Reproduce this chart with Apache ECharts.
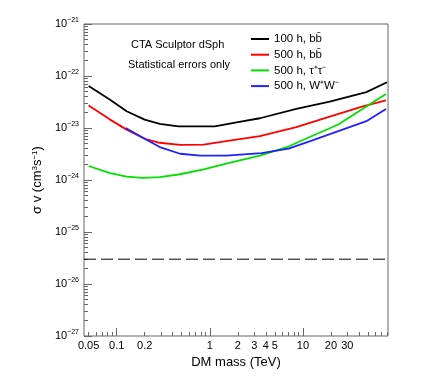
<!DOCTYPE html>
<html>
<head>
<meta charset="utf-8">
<script src="https://cdn.jsdelivr.net/npm/echarts@6/dist/echarts.min.js"></script>
<style>
  html, body { margin: 0; padding: 0; background: #fff; }
  #chart { width: 432px; height: 377px; }
</style>
</head>
<body>
<div id="chart"></div>
<script>
// DM mass (TeV) and sigma v (cm^3 s^-1)
const massBlack = [0.05, 0.085, 0.128, 0.2, 0.29, 0.46, 1.13, 1.94, 3.45, 8.5, 19.4, 48, 80]
const sigmaBlack = [6.4e-23, 3.5e-23, 2.1e-23, 1.45e-23, 1.2e-23, 1.07e-23, 1.07e-23, 1.28e-23, 1.54e-23, 2.33e-23, 3.2e-23, 4.9e-23, 7.6e-23]

const massRed = [0.05, 0.085, 0.128, 0.2, 0.29, 0.48, 0.86, 1.5, 3.45, 8.5, 19.4, 44, 78]
const sigmaRed = [2.72e-23, 1.45e-23, 9.3e-24, 6.2e-24, 5.2e-24, 4.75e-24, 4.8e-24, 5.6e-24, 7.0e-24, 1.04e-23, 1.66e-23, 2.6e-23, 3.4e-23]

const massGreen = [0.05, 0.085, 0.128, 0.19, 0.29, 0.48, 0.86, 1.5, 3.45, 7.0, 12, 24, 48, 78]
const sigmaGreen = [1.86e-24, 1.35e-24, 1.16e-24, 1.1e-24, 1.14e-24, 1.29e-24, 1.6e-24, 2.07e-24, 2.95e-24, 4.4e-24, 6.8e-24, 1.17e-23, 2.6e-23, 4.5e-23]

const massBlue = [0.125, 0.2, 0.29, 0.48, 0.79, 1.5, 3.6, 7.0, 12, 24, 48, 78]
const sigmaBlue = [1.0e-23, 6.2e-24, 4.3e-24, 3.2e-24, 2.95e-24, 2.95e-24, 3.3e-24, 4.0e-24, 5.6e-24, 8.7e-24, 1.35e-23, 2.33e-23]

const thermalRelic = 3e-26

const xLabels = [0.05, 0.1, 0.2, 1, 2, 3, 4, 5, 10, 20, 30]
const yDecades = [-27, -26, -25, -24, -23, -22, -21]
const massRange = [0.0446, 82]

const log = (v) => Math.log10(v)
const toPoints = (xs, ys) => xs.map((x, i) => [log(x), log(ys[i])])

// minor tick positions on the log axes
const xMinor = []
for (let d = -2; d <= 1; d++) {
	for (let k = 2; k <= 9; k++) {
		const v = log(k) + d
		if (v > log(massRange[0]) && v < log(massRange[1])) xMinor.push(v)
	}
}
const yMinor = []
for (let d = -27; d < -21; d++) {
	for (let k = 2; k <= 9; k++) yMinor.push(log(k) + d)
}

const font = "Liberation Sans"
const frame = "#666"

const chart = echarts.init(document.getElementById("chart"))

const lineSeries = (name, color, xs, ys) => ({
	name: name,
	type: "line",
	data: toPoints(xs, ys),
	showSymbol: false,
	symbol: "none",
	lineStyle: { color: color, width: 1.8 },
	itemStyle: { color: color },
	animation: false,
})

let options = {
	animation: false,
	textStyle: { fontFamily: font },
	grid: {
		left: 84,
		right: 44,
		top: 24,
		bottom: 41,
		show: true,
		borderColor: frame,
		borderWidth: 1,
	},
	legend: {
		orient: "vertical",
		left: 246,
		top: 27,
		itemWidth: 18,
		itemHeight: 2,
		itemGap: 1.7,
		icon: "rect",
		textStyle: { fontFamily: font, fontSize: 11.5, color: "#000", lineHeight: 14 },
		data: ["100 h, bb\u0304", "500 h, bb\u0304", "500 h, \u03c4\u207a\u03c4\u207b", "500 h, W\u207aW\u207b"],
	},
	graphic: [
		{
			type: "text",
			left: 131,
			top: 39,
			style: { text: "CTA Sculptor dSph", font: "11px " + font, fill: "#000" },
		},
		{
			type: "text",
			left: 128,
			top: 59,
			style: { text: "Statistical errors only", font: "11px " + font, fill: "#000" },
		},
	],
	xAxis: [
		{
			type: "value",
			min: log(massRange[0]),
			max: log(massRange[1]),
			name: "DM mass (TeV)",
			nameLocation: "middle",
			nameGap: 18,
			nameTextStyle: { fontFamily: font, fontSize: 13, color: "#000" },
			axisLine: { show: false, onZero: false },
			splitLine: { show: false },
			axisTick: {
				show: true,
				inside: true,
				length: 8,
				customValues: [-1, 0, 1],
				lineStyle: { color: frame },
			},
			axisLabel: {
				customValues: xLabels.map(log),
				margin: 4,
				fontSize: 11,
				color: "#000",
				fontFamily: font,
				formatter: (v) => String(Number(Math.pow(10, v).toPrecision(2))),
			},
		},
		{
			type: "value",
			min: log(massRange[0]),
			max: log(massRange[1]),
			position: "bottom",
			axisLine: { show: false, onZero: false },
			splitLine: { show: false },
			axisLabel: { show: false },
			axisTick: {
				show: true,
				inside: true,
				length: 4,
				customValues: xMinor,
				lineStyle: { color: frame },
			},
		},
	],
	yAxis: [
		{
			type: "value",
			min: -27,
			max: -21,
			interval: 1,
			name: "\u03c3 v (cm{s|3}s{s|\u22121})",
			nameLocation: "middle",
			nameGap: 38,
			nameRotate: 90,
			nameTextStyle: {
				fontFamily: font,
				fontSize: 13,
				color: "#000",
				rich: { s: { fontSize: 8, fontFamily: font, padding: [0, 0, 6, 0] } },
			},
			axisLine: { show: false, onZero: false },
			splitLine: { show: false },
			axisTick: {
				show: true,
				inside: true,
				length: 8,
				customValues: yDecades,
				lineStyle: { color: frame },
			},
			axisLabel: {
				customValues: yDecades,
				margin: 5,
				color: "#000",
				formatter: (v) => "{b|10}{s|\u2212" + Math.abs(v) + "}",
				rich: {
					b: { fontSize: 11, fontFamily: font, color: "#000" },
					s: { fontSize: 7, fontFamily: font, color: "#000", padding: [0, 0, 7, 0] },
				},
			},
		},
		{
			type: "value",
			min: -27,
			max: -21,
			position: "left",
			axisLine: { show: false, onZero: false },
			splitLine: { show: false },
			axisLabel: { show: false },
			axisTick: {
				show: true,
				inside: true,
				length: 4,
				customValues: yMinor,
				lineStyle: { color: frame },
			},
		},
	],
	series: [
		lineSeries("100 h, bb\u0304", "#000000", massBlack, sigmaBlack),
		lineSeries("500 h, bb\u0304", "#ff0000", massRed, sigmaRed),
		lineSeries("500 h, \u03c4\u207a\u03c4\u207b", "#00e000", massGreen, sigmaGreen),
		lineSeries("500 h, W\u207aW\u207b", "#2020ff", massBlue, sigmaBlue),
		{
			name: "thermal",
			type: "line",
			data: [
				[log(massRange[0]), log(thermalRelic)],
				[log(massRange[1]), log(thermalRelic)],
			],
			symbol: "none",
			lineStyle: { color: "#000", width: 1, type: [12, 5] },
			animation: false,
		},
	],
}

chart.setOption(options)
</script>
</body>
</html>
